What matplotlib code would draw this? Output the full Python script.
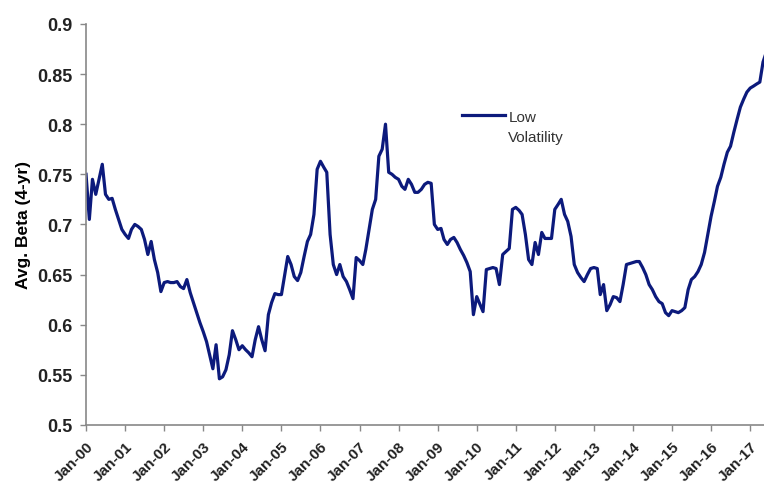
import matplotlib.pyplot as plt
import matplotlib.dates as mdates
import pandas as pd

# monthly average beta, Jan-2000 onwards
beta_2000 = [0.750, 0.705, 0.745, 0.730, 0.745, 0.760, 0.730, 0.725, 0.726, 0.715, 0.705, 0.695]
beta_2001 = [0.690, 0.686, 0.695, 0.700, 0.698, 0.695, 0.685, 0.670, 0.683, 0.665, 0.652, 0.633]
beta_2002 = [0.642, 0.643, 0.642, 0.642, 0.643, 0.638, 0.636, 0.645, 0.632, 0.622, 0.612, 0.602]
beta_2003 = [0.593, 0.583, 0.570, 0.556, 0.580, 0.546, 0.548, 0.555, 0.570, 0.594, 0.585, 0.575]
beta_2004 = [0.579, 0.575, 0.572, 0.568, 0.585, 0.598, 0.585, 0.574, 0.610, 0.622, 0.631, 0.630]
beta_2005 = [0.630, 0.650, 0.668, 0.660, 0.648, 0.644, 0.652, 0.668, 0.683, 0.690, 0.710, 0.755]
beta_2006 = [0.763, 0.757, 0.752, 0.690, 0.660, 0.650, 0.660, 0.648, 0.643, 0.635, 0.626, 0.667]
beta_2007 = [0.664, 0.660, 0.675, 0.695, 0.715, 0.725, 0.768, 0.775, 0.800, 0.752, 0.750, 0.747]
beta_2008 = [0.745, 0.738, 0.735, 0.745, 0.740, 0.732, 0.732, 0.735, 0.740, 0.742, 0.741, 0.700]
beta_2009 = [0.695, 0.696, 0.685, 0.680, 0.685, 0.687, 0.682, 0.675, 0.669, 0.662, 0.653, 0.610]
beta_2010 = [0.628, 0.620, 0.613, 0.655, 0.656, 0.657, 0.656, 0.640, 0.670, 0.673, 0.676, 0.715]
beta_2011 = [0.717, 0.714, 0.710, 0.690, 0.665, 0.660, 0.682, 0.670, 0.692, 0.686, 0.686, 0.686]
beta_2012 = [0.715, 0.720, 0.725, 0.710, 0.703, 0.688, 0.660, 0.652, 0.647, 0.643, 0.650, 0.656]
beta_2013 = [0.657, 0.656, 0.630, 0.640, 0.614, 0.620, 0.628, 0.627, 0.623, 0.640, 0.660, 0.661]
beta_2014 = [0.662, 0.663, 0.663, 0.657, 0.650, 0.640, 0.635, 0.628, 0.623, 0.621, 0.612, 0.609]
beta_2015 = [0.614, 0.613, 0.612, 0.614, 0.617, 0.635, 0.645, 0.648, 0.653, 0.660, 0.672, 0.690]
beta_2016 = [0.708, 0.723, 0.738, 0.747, 0.760, 0.772, 0.778, 0.792, 0.805, 0.817, 0.825, 0.832]
beta_2017 = [0.836, 0.838, 0.840, 0.842, 0.862, 0.872]

low_vol = (beta_2000 + beta_2001 + beta_2002 + beta_2003 + beta_2004 + beta_2005
           + beta_2006 + beta_2007 + beta_2008 + beta_2009 + beta_2010 + beta_2011
           + beta_2012 + beta_2013 + beta_2014 + beta_2015 + beta_2016 + beta_2017)
dates = pd.date_range("2000-01-01", periods=len(low_vol), freq="MS")

y_ticks = [0.5, 0.55, 0.6, 0.65, 0.7, 0.75, 0.8, 0.85, 0.9]
y_labels = ["0.5", "0.55", "0.6", "0.65", "0.7", "0.75", "0.8", "0.85", "0.9"]

plt.rcParams["font.family"] = ["Liberation Sans", "DejaVu Sans"]

fig = plt.figure(figsize=(7.64, 4.89), dpi=100)
ax = fig.add_axes([0.1126, 0.129, 0.8874, 0.82])

ax.plot(dates, low_vol, color="#0c1a7c", linewidth=2.3, label="Low\nVolatility")

ax.set_ylim(0.5, 0.9)
ax.set_yticks(y_ticks)
ax.set_yticklabels(y_labels)
ax.set_xlim(pd.Timestamp("2000-01-01"), pd.Timestamp("2017-05-10"))
ax.xaxis.set_major_locator(mdates.YearLocator())
ax.xaxis.set_major_formatter(mdates.DateFormatter("%b-%y"))

for lab in ax.get_xticklabels():
    lab.set_rotation(45)
    lab.set_ha("right")
    lab.set_rotation_mode("anchor")
    lab.set_fontsize(11)
    lab.set_fontweight("bold")
for lab in ax.get_yticklabels():
    lab.set_fontsize(13)
    lab.set_fontweight("bold")

ax.set_ylabel("Avg. Beta (4-yr)", fontsize=12.5, fontweight="bold", labelpad=4)

for side in ["top", "right"]:
    ax.spines[side].set_visible(False)
for side in ["left", "bottom"]:
    ax.spines[side].set_color("#888888")
    ax.spines[side].set_linewidth(1.2)
ax.tick_params(axis="both", colors="#888888", length=4, width=1.0)
ax.tick_params(axis="x", labelcolor="#222222", pad=6)
ax.tick_params(axis="y", labelcolor="#222222", pad=6)

leg = ax.legend(loc="upper left", bbox_to_anchor=(0.535, 0.82), frameon=False,
                fontsize=11, handlelength=2.8, handletextpad=0.2)
for t in leg.get_texts():
    t.set_color("#333333")
    t.set_linespacing(1.55)
# put the legend line level with the first text line
for h in leg.get_lines():
    h.set_ydata([v + 8.5 for v in h.get_ydata()])

plt.savefig("out.png", dpi=100)
